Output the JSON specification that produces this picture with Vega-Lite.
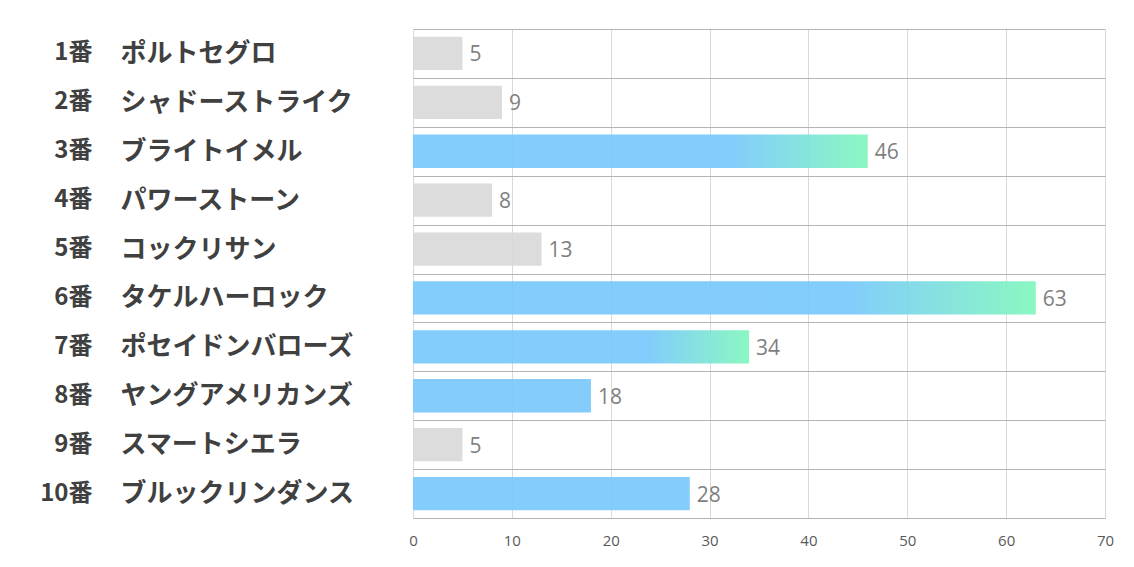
{
  "$schema": "https://vega.github.io/schema/vega-lite/v6.json",
  "width": 692,
  "height": 489,
  "autosize": {"type": "none"},
  "padding": {"left": 413, "top": 29, "right": 29, "bottom": 49},
  "background": "white",
  "config": {"view": {"stroke": null}},
  "data": {
    "values": [
      {"label": "01|1番|ポルトセグロ", "value": 5, "kind": "grey"},
      {"label": "02|2番|シャドーストライク", "value": 9, "kind": "grey"},
      {"label": "03|3番|ブライトイメル", "value": 46, "kind": "grad"},
      {"label": "04|4番|パワーストーン", "value": 8, "kind": "grey"},
      {"label": "05|5番|コックリサン", "value": 13, "kind": "grey"},
      {"label": "06|6番|タケルハーロック", "value": 63, "kind": "grad"},
      {"label": "07|7番|ポセイドンバローズ", "value": 34, "kind": "grad"},
      {"label": "08|8番|ヤングアメリカンズ", "value": 18, "kind": "blue"},
      {"label": "09|9番|スマートシエラ", "value": 5, "kind": "grey"},
      {"label": "10|10番|ブルックリンダンス", "value": 28, "kind": "blue"}
    ]
  },
  "layer": [
    {
      "mark": {"type": "bar", "height": {"band": 0.68}},
      "encoding": {
        "y": {
          "field": "label", "type": "ordinal",
          "scale": {"paddingInner": 0, "paddingOuter": 0},
          "axis": {
            "orient": "left", "title": null,
            "labelExpr": "split(datum.value, '|')[2]",
            "labelAlign": "left", "labelPadding": 293, "labelLimit": 0,
            "labelFont": "Noto Sans CJK JP", "labelFontWeight": "bold",
            "labelFontSize": 26, "labelColor": "#404040",
            "domain": false, "ticks": false,
            "grid": true, "tickBand": "extent", "gridColor": "#b4b4b4", "gridWidth": 1
          }
        },
        "x": {
          "field": "value", "type": "quantitative",
          "scale": {"domain": [0, 70], "nice": false},
          "axis": {
            "title": null, "values": [0, 10, 20, 30, 40, 50, 60, 70],
            "domain": false, "ticks": false, "grid": true, "gridColor": "#d9d9d9",
            "labelFont": "Open Sans", "labelFontSize": 15, "labelColor": "#595959",
            "labelPadding": 15, "labelFlush": false
          }
        },
        "color": {"condition": {"test": "datum.kind === 'grey'", "value": "#d9d9d9"}, "value": "#78c8fc"},
        "opacity": {"condition": {"test": "datum.kind === 'grad'", "value": 0}, "value": 0.92}
      }
    },
    {
      "transform": [{"filter": "datum.kind === 'grad'"}],
      "mark": {
        "type": "bar", "height": {"band": 0.68}, "opacity": 0.92,
        "color": {
          "gradient": "linear", "x1": 0, "y1": 0, "x2": 1, "y2": 0,
          "stops": [
            {"offset": 0, "color": "#78c8fc"},
            {"offset": 0.7, "color": "#78c8fc"},
            {"offset": 1, "color": "#80f7bc"}
          ]
        }
      },
      "encoding": {
        "y": {"field": "label", "type": "ordinal", "axis": null},
        "x": {"field": "value", "type": "quantitative"}
      }
    },
    {
      "mark": {"type": "text", "align": "left", "baseline": "middle", "dx": 7, "dy": 2, "font": "Open Sans", "fontSize": 21, "color": "#7f7f7f"},
      "encoding": {
        "y": {
          "field": "label", "type": "ordinal",
          "axis": {
            "orient": "left", "title": null,
            "labelExpr": "split(datum.value, '|')[1]",
            "labelAlign": "right", "labelPadding": 321, "labelLimit": 0,
            "labelFont": "Noto Sans CJK JP", "labelFontWeight": "bold",
            "labelFontSize": 24, "labelColor": "#404040",
            "domain": false, "ticks": false, "grid": false
          }
        },
        "x": {"field": "value", "type": "quantitative"},
        "text": {"field": "value", "type": "quantitative"}
      }
    }
  ],
  "resolve": {"axis": {"y": "independent"}}
}
